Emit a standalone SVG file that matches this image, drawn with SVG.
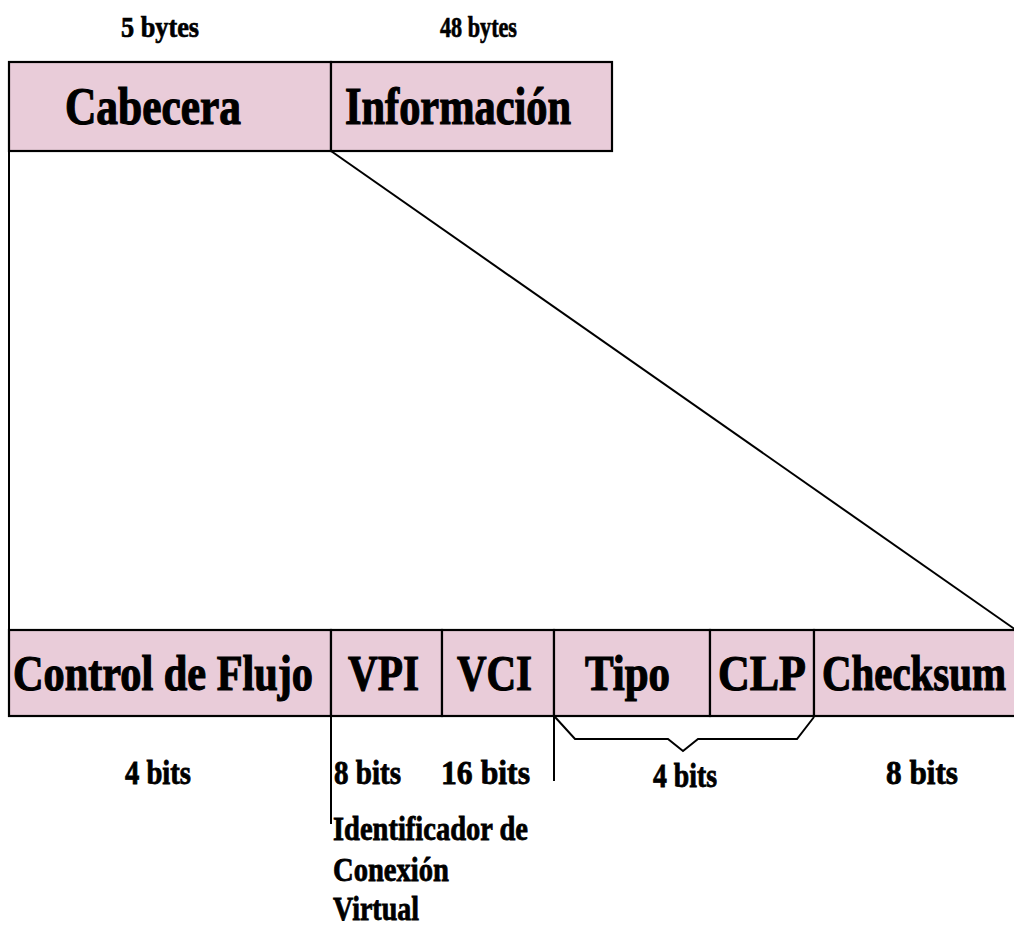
<svg xmlns="http://www.w3.org/2000/svg" width="1014" height="929" viewBox="0 0 1014 929">
  <style>
    .cell { fill: #e9ccd9; stroke: #000; stroke-width: 2.2; }
    .ln { fill: none; stroke: #000; stroke-width: 2; }
    text { font-family: "Liberation Serif", "Times New Roman", serif; font-weight: bold; fill: #000; stroke: #000; }
    .big { font-size: 52px; stroke-width: 1.2; }
    .mid { font-size: 50px; stroke-width: 1.2; }
    .sm { font-size: 34px; stroke-width: 0.8; }
    .top { font-size: 30px; stroke-width: 0.7; }
  </style>
  <rect width="1014" height="929" fill="#fff"/>

  <!-- size labels above the cell -->
  <g id="size-labels">
    <text class="top" x="121" y="37" textLength="78" lengthAdjust="spacingAndGlyphs">5 bytes</text>
    <text class="top" x="440" y="37" textLength="77" lengthAdjust="spacingAndGlyphs">48 bytes</text>
  </g>

  <!-- ATM cell: header + payload -->
  <g id="cabecera">
    <rect class="cell" x="9" y="62" width="322" height="89"/>
    <text class="big" x="65" y="124" textLength="176" lengthAdjust="spacingAndGlyphs">Cabecera</text>
  </g>
  <g id="informacion">
    <rect class="cell" x="331" y="62" width="281" height="89"/>
    <text class="big" x="345" y="124" textLength="226" lengthAdjust="spacingAndGlyphs">Información</text>
  </g>

  <!-- expansion lines from the header to the header fields -->
  <g id="connectors">
    <line class="ln" x1="9" y1="151" x2="9" y2="630"/>
    <line class="ln" x1="331" y1="151" x2="1016" y2="630"/>
    <line class="ln" x1="331" y1="716" x2="331" y2="824"/>
    <line class="ln" x1="554" y1="716" x2="554" y2="781"/>
    <path class="ln" d="M555,717 L575,739 L668,739 L683,751 L698,739 L797,739 L814,717"/>
  </g>

  <!-- header fields -->
  <g id="control-de-flujo">
    <rect class="cell" x="9" y="630" width="322" height="86"/>
    <text class="mid" x="13" y="690" textLength="300" lengthAdjust="spacingAndGlyphs">Control de Flujo</text>
  </g>
  <g id="vpi">
    <rect class="cell" x="331" y="630" width="111" height="86"/>
    <text class="mid" x="348" y="690" textLength="71" lengthAdjust="spacingAndGlyphs">VPI</text>
  </g>
  <g id="vci">
    <rect class="cell" x="442" y="630" width="112" height="86"/>
    <text class="mid" x="457" y="690" textLength="75" lengthAdjust="spacingAndGlyphs">VCI</text>
  </g>
  <g id="tipo">
    <rect class="cell" x="554" y="630" width="156" height="86"/>
    <text class="mid" x="585" y="690" textLength="85" lengthAdjust="spacingAndGlyphs">Tipo</text>
  </g>
  <g id="clp">
    <rect class="cell" x="710" y="630" width="104" height="86"/>
    <text class="mid" x="718" y="690" textLength="88" lengthAdjust="spacingAndGlyphs">CLP</text>
  </g>
  <g id="checksum">
    <rect class="cell" x="814" y="630" width="220" height="86"/>
    <text class="mid" x="822" y="690" textLength="184" lengthAdjust="spacingAndGlyphs">Checksum</text>
  </g>

  <!-- field widths -->
  <g id="bit-labels">
    <text class="sm" x="125" y="784" textLength="66" lengthAdjust="spacingAndGlyphs">4 bits</text>
    <text class="sm" x="334" y="784" textLength="67" lengthAdjust="spacingAndGlyphs">8 bits</text>
    <text class="sm" x="441" y="784" textLength="89" lengthAdjust="spacingAndGlyphs">16 bits</text>
    <text class="sm" x="653" y="787" textLength="64" lengthAdjust="spacingAndGlyphs">4 bits</text>
    <text class="sm" x="886" y="784" textLength="72" lengthAdjust="spacingAndGlyphs">8 bits</text>
  </g>

  <!-- VPI/VCI description -->
  <g id="identificador">
    <text class="sm" x="333" y="840" textLength="195" lengthAdjust="spacingAndGlyphs">Identificador de</text>
    <text class="sm" x="333" y="881" textLength="116" lengthAdjust="spacingAndGlyphs">Conexión</text>
    <text class="sm" x="333" y="920" textLength="86" lengthAdjust="spacingAndGlyphs">Virtual</text>
  </g>
</svg>
